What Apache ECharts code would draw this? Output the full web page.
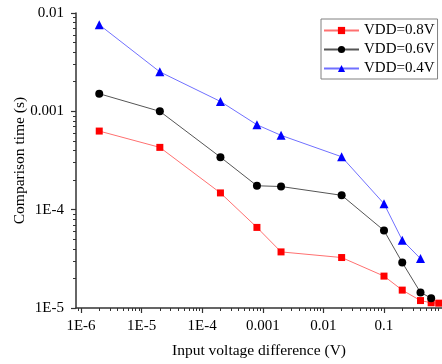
<!DOCTYPE html>
<html>
<head>
<meta charset="utf-8">
<script src="https://cdn.jsdelivr.net/npm/echarts@6/dist/echarts.min.js"></script>
<style>
  html, body { margin: 0; padding: 0; background: #fff; }
  #chart { width: 442px; height: 364px; }
</style>
</head>
<body>
<div id="chart"></div>
<script>
// input voltage difference (V)
const xRed = [2e-6, 2e-5, 2e-4, 8e-4, 2e-3, 0.02, 0.1, 0.2, 0.4, 0.6, 0.8];
const xBlack = [2e-6, 2e-5, 2e-4, 8e-4, 2e-3, 0.02, 0.1, 0.2, 0.4, 0.6];
const xBlue = [2e-6, 2e-5, 2e-4, 8e-4, 2e-3, 0.02, 0.1, 0.2, 0.4];

// comparison time (s)
const tRed = [6.3e-4, 4.3e-4, 1.48e-4, 6.6e-5, 3.72e-5, 3.26e-5, 2.11e-5, 1.52e-5, 1.19e-5, 1.13e-5, 1.12e-5];
const tBlack = [1.51e-3, 1.0e-3, 3.42e-4, 1.75e-4, 1.72e-4, 1.40e-4, 6.14e-5, 2.9e-5, 1.44e-5, 1.26e-5];
const tBlue = [7.6e-3, 2.52e-3, 1.26e-3, 7.3e-4, 5.7e-4, 3.45e-4, 1.15e-4, 4.9e-5, 3.18e-5];

const seriesNames = ['VDD=0.8V', 'VDD=0.6V', 'VDD=0.4V'];

const xTickValues = [1e-6, 1e-5, 1e-4, 1e-3, 1e-2, 1e-1];
const xTickLabels = ['1E-6', '1E-5', '1E-4', '0.001', '0.01', '0.1'];
const yTickValues = [1e-5, 1e-4, 1e-3, 1e-2];
const yTickLabels = ['1E-5', '1E-4', '0.001', '0.01'];

const X_MIN = 8.27e-7, X_MAX = 0.906;
const Y_MIN = 1e-5, Y_MAX = 0.01;

// minor ticks at 2..9 of each decade
function minorTicks(lo, hi) {
  const out = [];
  for (let d = -8; d <= 1; d++) {
    for (let k = 2; k <= 9; k++) {
      const v = k * Math.pow(10, d);
      if (v > lo && v < hi) out.push(v);
    }
  }
  return out;
}

const font = "'Liberation Serif', 'Times New Roman', serif";

function labelOf(values, labels) {
  return (v) => {
    for (let i = 0; i < values.length; i++) {
      if (Math.abs(v - values[i]) / values[i] < 1e-6) return labels[i];
    }
    return '';
  };
}

const chart = echarts.init(document.getElementById('chart'));

chart.setOption({
  animation: false,
  textStyle: { fontFamily: font },
  grid: { left: 76, right: 0, top: 13, bottom: 53 },
  legend: {
    data: seriesNames,
    orient: 'vertical',
    left: 321,
    top: 19,
    itemWidth: 35,
    itemHeight: 9,
    itemGap: 4,
    padding: [4, 3, 3, 2],
    borderColor: '#808080',
    borderWidth: 1,
    backgroundColor: '#fff',
    textStyle: { fontFamily: font, fontSize: 15, color: '#000' },
  },
  xAxis: [
    {
      type: 'log',
      min: X_MIN,
      max: X_MAX,
      position: 'bottom',
      name: 'Input voltage difference (V)',
      nameLocation: 'middle',
      nameGap: 35,
      nameTextStyle: { fontFamily: font, fontSize: 15.5, color: '#000' },
      axisLine: { lineStyle: { color: '#333', width: 1.5 } },
      axisTick: { customValues: xTickValues, length: 5, lineStyle: { color: '#333', width: 1.2 } },
      axisLabel: {
        customValues: xTickValues,
        formatter: labelOf(xTickValues, xTickLabels),
        fontFamily: font,
        fontSize: 15,
        color: '#000',
        margin: 11,
      },
      splitLine: { show: false },
    },
    {
      type: 'log',
      min: X_MIN,
      max: X_MAX,
      position: 'bottom',
      axisLine: { show: false },
      axisTick: { customValues: minorTicks(X_MIN, X_MAX), length: 3, lineStyle: { color: '#333', width: 1 } },
      axisLabel: { show: false },
      splitLine: { show: false },
    },
  ],
  yAxis: [
    {
      type: 'log',
      min: Y_MIN,
      max: Y_MAX,
      position: 'left',
      name: 'Comparison time (s)',
      nameLocation: 'middle',
      nameGap: 48,
      nameMoveOverlap: false,
      nameTextStyle: { fontFamily: font, fontSize: 15.5, color: '#000' },
      axisLine: { show: true, lineStyle: { color: '#333', width: 1.5 } },
      axisTick: { show: true, customValues: yTickValues, length: 5, lineStyle: { color: '#333', width: 1.2 } },
      axisLabel: {
        customValues: yTickValues,
        formatter: labelOf(yTickValues, yTickLabels),
        fontFamily: font,
        fontSize: 15,
        color: '#000',
        margin: 12,
      },
      splitLine: { show: false },
    },
    {
      type: 'log',
      min: Y_MIN,
      max: Y_MAX,
      position: 'left',
      axisLine: { show: false },
      axisTick: { show: true, customValues: minorTicks(Y_MIN, Y_MAX), length: 3, lineStyle: { color: '#333', width: 1 } },
      axisLabel: { show: false },
      splitLine: { show: false },
    },
  ],
  series: [
    {
      name: seriesNames[0],
      type: 'line',
      data: xRed.map((x, i) => [x, tRed[i]]),
      symbol: 'rect',
      symbolSize: 7,
      itemStyle: { color: '#ff0000' },
      lineStyle: { color: '#ff7070', width: 1 },
    },
    {
      name: seriesNames[1],
      type: 'line',
      data: xBlack.map((x, i) => [x, tBlack[i]]),
      symbol: 'circle',
      symbolSize: 8,
      itemStyle: { color: '#000' },
      lineStyle: { color: '#555', width: 1 },
    },
    {
      name: seriesNames[2],
      type: 'line',
      data: xBlue.map((x, i) => [x, tBlue[i]]),
      symbol: 'triangle',
      symbolSize: 9,
      itemStyle: { color: '#0000ff' },
      lineStyle: { color: '#7070ff', width: 1 },
    },
  ],
});
</script>
</body>
</html>
